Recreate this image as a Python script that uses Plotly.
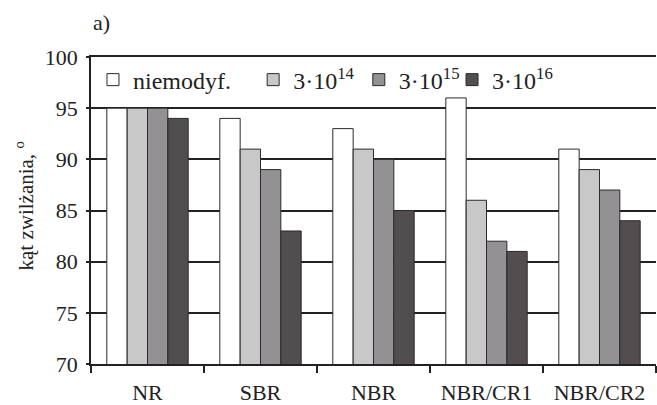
import plotly.graph_objects as go

categories = ["NR", "SBR", "NBR", "NBR/CR1", "NBR/CR2"]
series_names = ["niemodyf.", "3·10<sup>14</sup>", "3·10<sup>15</sup>", "3·10<sup>16</sup>"]
v_niemodyf = [95, 94, 93, 96, 91]
v_3e14 = [95, 91, 91, 86, 89]
v_3e15 = [95, 89, 90, 82, 87]
v_3e16 = [94, 83, 85, 81, 84]
y_ticks = [70, 75, 80, 85, 90, 95, 100]
y_title = "kąt zwilżania, <sup>o</sup>"
panel_label = "a)"

values = [v_niemodyf, v_3e14, v_3e15, v_3e16]
colors = ["#FFFFFF", "#C9C8C9", "#939193", "#524E4F"]
legend_ids = ["legend", "legend2", "legend3", "legend4"]
legend_x = [0.0035, 0.287, 0.474, 0.639]

FONT = "Liberation Serif"
INK = "#222222"

fig = go.Figure()
for name, vals, col, lid in zip(series_names, values, colors, legend_ids):
    fig.add_trace(go.Bar(
        x=categories, y=vals, name=name, legend=lid,
        marker=dict(color=col, line=dict(color="#2a2a2a", width=1)),
    ))

layout_legends = {}
for lid, lx in zip(legend_ids, legend_x):
    layout_legends[lid] = dict(
        x=lx, xanchor="left", y=0.925, yanchor="middle",
        orientation="h", bgcolor="rgba(0,0,0,0)", borderwidth=0,
        font=dict(family=FONT, size=24, color=INK),
        itemclick=False, itemdoubleclick=False,
    )

fig.update_layout(
    width=657, height=405,
    margin=dict(l=91, r=1, t=57, b=41, autoexpand=False),
    paper_bgcolor="white", plot_bgcolor="white",
    barmode="group", bargap=0.28, bargroupgap=0,
    font=dict(family=FONT, size=22, color=INK),
    showlegend=True,
    **layout_legends,
    xaxis=dict(
        showline=True, linecolor=INK, linewidth=1.5, mirror=True,
        ticks="outside", tickson="boundaries", ticklen=7, tickcolor=INK, tickwidth=1.5,
        showgrid=False, tickfont=dict(family=FONT, size=22, color=INK),
        ticklabelstandoff=8, automargin=False,
    ),
    yaxis=dict(
        range=[70, 100], tickvals=y_ticks,
        showline=True, linecolor=INK, linewidth=1.5,
        ticks="outside", ticklen=3, tickcolor=INK, tickwidth=1.5,
        showgrid=True, gridcolor=INK, gridwidth=1.5,
        zeroline=False, automargin=False,
        tickfont=dict(family=FONT, size=22, color=INK),
        ticklabelstandoff=4,
    ),
    annotations=[
        dict(
            text=panel_label, xref="paper", yref="paper", x=0.0, y=1.114,
            xanchor="left", yanchor="middle", showarrow=False,
            font=dict(family=FONT, size=22, color=INK),
        ),
        dict(
            text=y_title, xref="paper", yref="paper", x=-0.117, y=0.516,
            xanchor="center", yanchor="middle", showarrow=False, textangle=-90,
            font=dict(family=FONT, size=21, color=INK),
        ),
    ],
)

fig.write_html("out.html", config={"displayModeBar": False},
               post_script="document.body.style.margin='0';document.body.style.padding='0';")
